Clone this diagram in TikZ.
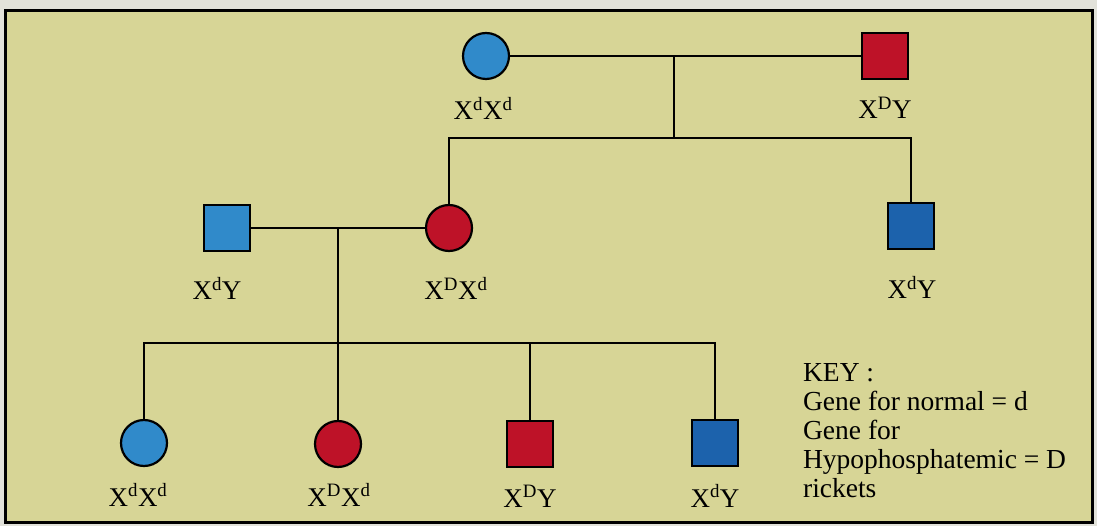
\documentclass[tikz,border=0pt]{standalone}
\usepackage{fontspec}
\setmainfont{Liberation Serif}
\usetikzlibrary{positioning}

\definecolor{paper}{RGB}{215,213,150}
\definecolor{margin}{RGB}{226,226,218}
\definecolor{blueA}{RGB}{48,138,202}
\definecolor{blueB}{RGB}{28,98,172}
\definecolor{redA}{RGB}{190,18,40}

\begin{document}
\begin{tikzpicture}[x=1pt, y=-1pt, line width=2.2pt,
  female/.style={circle, draw, minimum size=46pt, inner sep=0pt},
  male/.style={rectangle, draw, minimum size=46pt, inner sep=0pt},
  geno/.style={anchor=base, inner sep=0pt, font=\fontsize{27}{30}\selectfont}]

  % page and frame
  \fill[margin] (0,0) rectangle (1097,526);
  \draw[line width=3pt, fill=paper] (5,11) rectangle (1092,522);

  % generation I
  \node[female, fill=blueA] (mom1) at (486,56) {};
  \node[male, fill=redA] (dad1) at (885,56) {};
  \node[geno] (gmom1) at (483,120) {X\textsuperscript{d}X\textsuperscript{d}};
  \node[geno] (gdad1) at (885,119) {X\textsuperscript{D}Y};
  \coordinate (join1) at (674,56);
  \coordinate (sib1) at (674,138);

  % generation II
  \node[male, fill=blueA] (dad2) at (227,228) {};
  \node[female, fill=redA] (mom2) at (449,228) {};
  \node[male, fill=blueB] (son2) at (911,226) {};
  \node[geno] (gdad2) at (217,300) {X\textsuperscript{d}Y};
  \node[geno] (gmom2) at (456,300) {X\textsuperscript{D}X\textsuperscript{d}};
  \node[geno] (gson2) at (912,299) {X\textsuperscript{d}Y};
  \coordinate (join2) at (338,228);
  \coordinate (sib2) at (338,343);

  % generation III
  \node[female, fill=blueA] (kid1) at (144,443) {};
  \node[female, fill=redA] (kid2) at (338,444) {};
  \node[male, fill=redA] (kid3) at (530,444) {};
  \node[male, fill=blueB] (kid4) at (715,443) {};
  \node[geno] (gkid1) at (138,506) {X\textsuperscript{d}X\textsuperscript{d}};
  \node[geno] (gkid2) at (339,506) {X\textsuperscript{D}X\textsuperscript{d}};
  \node[geno] (gkid3) at (530,507) {X\textsuperscript{D}Y};
  \node[geno] (gkid4) at (715,507) {X\textsuperscript{d}Y};

  % lines of descent
  \draw (mom1) -- (dad1);
  \draw (join1) -- (sib1);
  \draw (mom2) |- (sib1) -| (son2);
  \draw (dad2) -- (mom2);
  \draw (join2) -- (sib2);
  \draw (kid1) |- (sib2) -| (kid4);
  \draw (sib2) -- (kid2);
  \draw (kid3) -- (kid3 |- sib2);

  % key (base = baseline of last line)
  \node[anchor=base west, inner sep=0pt, align=left,
        font=\fontsize{27.5}{29}\selectfont] (key) at (802,497)
    {KEY :\\Gene for normal = d\\Gene for\\Hypophosphatemic = D\\rickets};
\end{tikzpicture}
\end{document}
